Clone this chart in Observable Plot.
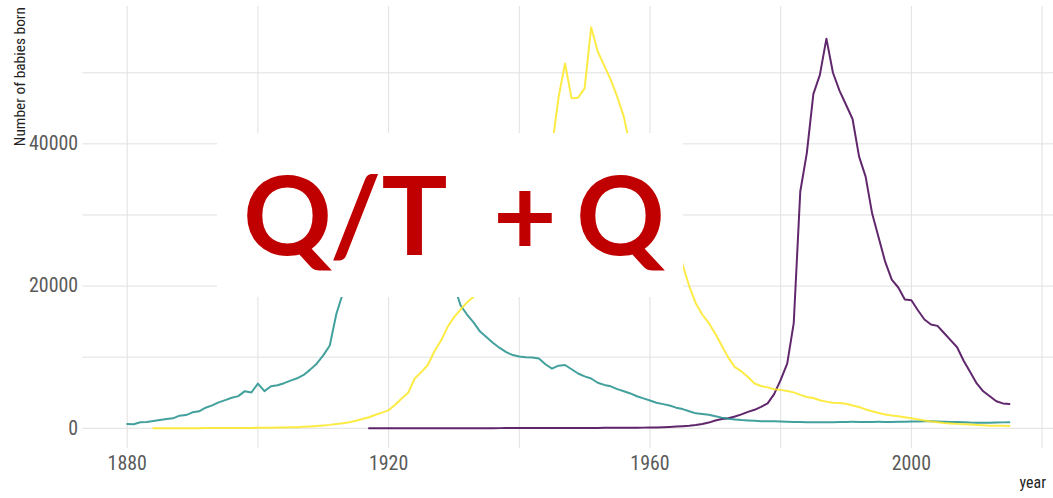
<!DOCTYPE html>
<html><head><meta charset="utf-8">
<script src="https://cdn.jsdelivr.net/npm/d3@7"></script>
<script src="https://cdn.jsdelivr.net/npm/@observablehq/plot@0.6"></script>
<style>
html,body{margin:0;padding:0;background:#fff;overflow:hidden;width:1053px;height:498px;}
#wrap{position:relative;width:1053px;height:498px;overflow:hidden;}
#overlay{position:absolute;left:0;top:0;}
</style></head><body><div id="wrap"></div>
<script>
// ---- data (babies born per year, female names) ----
const names = ["Ashley", "Helen", "Patricia"];
const colors = ["#440154", "#21908C", "#FDE725"];

const helenStart = 1880;
const helen = [
  600, 570, 840, 890, 1030, 1170, 1310, 1400, 1770, 1860,
  2240, 2380, 2890, 3220, 3640, 3960, 4290, 4520, 5220, 5030,
  6290, 5220, 5920, 6060, 6340, 6710, 7030, 7500, 8250, 9090,
  10250, 11650, 16080, 19000, 23000, 29500, 31000, 32500, 34000, 33500,
  35000, 35500, 33500, 32500, 32000, 29500, 27500, 26000, 24000, 22000,
  20200, 17300, 16000, 14900, 13600, 12800, 12000, 11300, 10700, 10300,
  10100, 10000, 9950, 9800, 9000, 8400, 8800, 8900, 8300, 7700,
  7300, 7000, 6400, 6100, 5900, 5500, 5200, 4900, 4500, 4200,
  3900, 3600, 3400, 3200, 2900, 2700, 2400, 2100, 2000, 1900,
  1700, 1500, 1350, 1250, 1150, 1100, 1050, 1000, 1000, 980,
  950, 930, 900, 880, 860, 850, 840, 840, 850, 870,
  900, 910, 900, 890, 900, 910, 900, 900, 910, 920,
  940, 950, 980, 980, 960, 930, 900, 880, 850, 800,
  780, 770, 790, 800, 830, 840
];

const patriciaStart = 1884;
const patricia = [
  5, 8, 10, 12, 14, 16, 18, 20, 24, 26,
  30, 34, 38, 42, 50, 55, 75, 70, 85, 95,
  110, 130, 150, 200, 260, 320, 400, 480, 600, 700,
  850, 1050, 1300, 1550, 1900, 2200, 2550, 3300, 4200, 5000,
  7000, 7900, 8900, 10800, 12300, 14200, 15600, 16700, 17700, 18500,
  20500, 23000, 26000, 29000, 32000, 34500, 37000, 39500, 40500, 40000,
  38500, 39500, 46500, 51300, 46400, 46500, 47800, 56400, 53000, 51000,
  49000, 46600, 43800, 39500, 37000, 35000, 33000, 31500, 30000, 28000,
  26500, 23000, 20000, 17600, 16000, 14800, 13300, 11600, 9900, 8600,
  8000, 7200, 6300, 5950, 5750, 5500, 5400, 5250, 5050, 4700,
  4400, 4250, 3950, 3750, 3600, 3550, 3450, 3200, 3000, 2650,
  2400, 2150, 1950, 1800, 1700, 1550, 1400, 1250, 1100, 950,
  850, 750, 680, 620, 570, 520, 470, 420, 370, 350,
  340, 330
];

const ashleyStart = 1917;
const ashley = [
  5, 6, 6, 7, 8, 8, 9, 10, 10, 11,
  12, 12, 13, 14, 15, 16, 17, 18, 19, 20,
  22, 23, 25, 26, 28, 30, 32, 34, 36, 38,
  40, 43, 46, 49, 52, 56, 60, 64, 68, 72,
  78, 84, 92,
  100, 120, 150, 190, 250, 300, 360, 450, 600, 800,
  1100, 1300, 1400, 1650, 1950, 2300, 2600, 3000, 3500, 4800,
  6800, 9100, 14800, 33300, 38700, 47000, 49700, 54800, 50000, 47500,
  45500, 43500, 38200, 35400, 30200, 26800, 23400, 20900, 19800, 18100,
  18000, 16600, 15300, 14600, 14400, 13400, 12400, 11400, 9500, 7900,
  6300, 5200, 4500, 3800, 3500, 3400
];

const xTicks = [1880, 1920, 1960, 2000];
const xGrid = [1880, 1900, 1920, 1940, 1960, 1980, 2000, 2020];
const yTicks = [0, 20000, 40000];
const yGrid = [0, 10000, 20000, 30000, 40000, 50000];
const xDomain = [1873.25, 2021.75];
const yDomain = [-2825, 59325];
const xTitle = "year";
const yTitle = "Number of babies born";
const overlayText = ["Q/T", "+", "Q"];

// ---- build table ----
const rows = [];
function addSeries(name, start, vals) {
  vals.forEach((n, i) => rows.push({name, year: start + i, n}));
}
addSeries("Ashley", ashleyStart, ashley);
addSeries("Helen", helenStart, helen);
addSeries("Patricia", patriciaStart, patricia);

const narrow = '"Liberation Sans Narrow","Arial Narrow","Roboto Condensed","Liberation Sans",sans-serif';

const chart = Plot.plot({
  width: 1058, height: 498,
  marginLeft: 83, marginRight: 0, marginTop: 6, marginBottom: 48,
  style: {fontFamily: narrow, fontSize: "20px", background: "white", overflow: "visible"},
  x: {domain: xDomain, label: null},
  y: {domain: yDomain, label: null},
  color: {domain: names, range: colors},
  marks: [
    Plot.gridX(xGrid, {stroke: "#e0e0e0", strokeOpacity: 1, strokeWidth: 1}),
    Plot.gridY(yGrid, {stroke: "#e0e0e0", strokeOpacity: 1, strokeWidth: 1}),
    Plot.axisX(xTicks, {tickSize: 0, tickPadding: 8, tickFormat: d => String(d), color: "#5a5a5a", label: null}),
    Plot.axisY(yTicks, {tickSize: 0, tickPadding: 5, tickFormat: d => String(d), color: "#5a5a5a", label: null}),
    Plot.line(rows, {x: "year", y: "n", z: "name", stroke: "name", strokeWidth: 2, strokeOpacity: 0.85})
  ]
});

const svg = d3.select(chart);
svg.append("text")
  .attr("transform", "translate(25,7) rotate(-90)")
  .attr("text-anchor", "end")
  .attr("font-size", 15.5)
  .attr("fill", "#222")
  .attr("font-family", narrow)
  .text(yTitle);
svg.append("text")
  .attr("x", 1051).attr("y", 490)
  .attr("text-anchor", "end")
  .attr("font-size", 16)
  .attr("fill", "#222")
  .attr("font-family", narrow)
  .text(xTitle);

const wrap = document.getElementById("wrap");
wrap.appendChild(chart);

// ---- overlay annotation box ----
const ov = d3.select(wrap).append("svg")
  .attr("id", "overlay").attr("width", 1053).attr("height", 498);
ov.append("rect").attr("x", 217).attr("y", 133).attr("width", 466).attr("height", 164).attr("fill", "white");
const t = ov.append("text")
  .attr("y", 255)
  .attr("font-family", "Lato, 'Open Sans', sans-serif")
  .attr("font-weight", 700)
  .attr("font-size", 110)
  .attr("fill", "#C00000")
  .style("white-space", "pre");
t.append("tspan").attr("x", 243).text(overlayText[0] + " ");
t.append("tspan").attr("x", 493).text(overlayText[1] + " ");
t.append("tspan").attr("x", 576).text(overlayText[2]);
</script>
</body></html>
